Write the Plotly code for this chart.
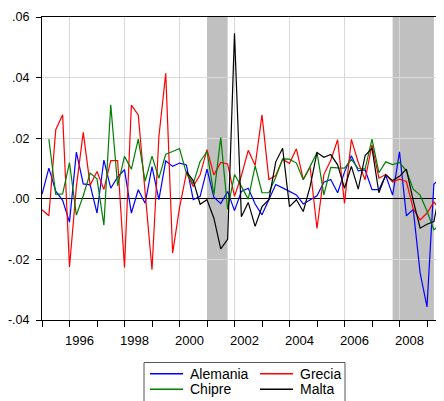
import pandas as pd
import plotly.graph_objects as go

# ---------------- data (quarterly growth rates) ----------------
start_quarter = "1995Q1"

alemania = [0.0015, 0.0101, 0.0025, -0.0005, -0.0077, 0.0154, 0.0049, 0.0046, -0.0047, 0.0128,
            0.0035, 0.0072, 0.0096, -0.0047, 0.0030, -0.0015, 0.0106, -0.0003, 0.0125, 0.0107,
            0.0118, 0.0112, -0.0003, 0.0008, 0.0098, 0.0005, -0.0016, 0.0024, -0.0039, 0.0024,
            0.0035, -0.0017, -0.0053, -0.0003, 0.0047, 0.0036, 0.0025, 0.0013, -0.0017, -0.0003,
            0.0010, 0.0055, 0.0064, 0.0020, 0.0088, 0.0142, 0.0092, 0.0095, 0.0030, 0.0030,
            0.0077, 0.0012, 0.0155, -0.0056, -0.0035, -0.0245, -0.0357, 0.0048, 0.0072, 0.0000]

grecia = [-0.0036, -0.0056, 0.0228, 0.0277, -0.0225, 0.0040, 0.0219, 0.0045, 0.0090, 0.0031,
          0.0126, 0.0126, -0.0227, 0.0309, 0.0277, 0.0020, -0.0234, 0.0205, 0.0414, -0.0179,
          -0.0030, 0.0085, 0.0041, 0.0079, 0.0162, 0.0079, 0.0120, 0.0115, 0.0008, 0.0076,
          0.0160, 0.0110, 0.0277, 0.0064, 0.0077, 0.0130, 0.0117, 0.0165, 0.0064, 0.0105,
          -0.0098, 0.0080, 0.0127, 0.0195, -0.0015, 0.0196, 0.0120, 0.0063, 0.0178, 0.0068,
          0.0080, 0.0055, 0.0065, 0.0057, -0.0033, -0.0070, -0.0047, -0.0010, -0.0042]

chipre = [None, 0.0197, 0.0015, 0.0016, 0.0119, -0.0054, 0.0010, 0.0085, 0.0066, -0.0087,
          0.0310, 0.0043, 0.0140, 0.0098, 0.0197, 0.0058, 0.0141, 0.0068, 0.0147, 0.0156,
          0.0166, 0.0085, 0.0050, 0.0123, 0.0156, 0.0013, 0.0202, -0.0035, 0.0080, 0.0041,
          -0.0001, 0.0109, 0.0020, 0.0020, 0.0071, 0.0132, 0.0131, 0.0118, 0.0063, 0.0107,
          0.0153, 0.0013, 0.0104, 0.0102, 0.0101, 0.0130, 0.0100, 0.0099, 0.0197, 0.0086,
          0.0122, 0.0113, 0.0120, 0.0092, 0.0032, 0.0012, -0.0040, -0.0102, -0.0085, -0.0040]

malta = [None] * 21 + [
    0.0090, 0.0060, -0.0018, -0.0003, -0.0064, -0.0165, -0.0134, 0.0546, -0.0059,
    -0.0012, -0.0091, -0.0026, -0.0003, 0.0122, 0.0167, -0.0026, -0.0003, -0.0042, 0.0041,
    0.0153, 0.0137, 0.0146, 0.0112, 0.0035, 0.0107, 0.0032, 0.0143, 0.0167, 0.0020,
    0.0079, 0.0060, 0.0074, 0.0098, -0.0006, -0.0097, -0.0084, -0.0075, 0.0040]

series_names = ["Alemania", "Grecia", "Chipre", "Malta"]
series_values = [alemania, grecia, chipre, malta]
series_colors = ["#0000ff", "#ff0000", "#008000", "#000000"]

# recession bands (start, end) in fractional years
band_starts = [2001.0, 2007.75]
band_ends = [2001.75, 2009.25]

x_tick_years = [1996, 1998, 2000, 2002, 2004, 2006, 2008]
x_tick_labels = ["1996", "1998", "2000", "2002", "2004", "2006", "2008"]
y_tick_vals = [-0.04, -0.02, 0.0, 0.02, 0.04, 0.06]
y_tick_labels = ["-.04", "-.02", ".00", ".02", ".04", ".06"]

# ---------------- geometry ----------------
# the page has the browser's default 8px body margin, so the figure is offset by 8px
PAGE_OFF = 8
W, H = 444, 401
ML, MR, MT, MB = 42 - PAGE_OFF, 0, 17 - PAGE_OFF, H - (320 - PAGE_OFF)
PW, PH = W - ML - MR, H - MT - MB
PX_PER_YEAR = 27.5
X_START = 1995
X_END = X_START + PW / PX_PER_YEAR


def px_x(px):
    return (px - PAGE_OFF - ML) / PW


def px_y(py):
    return (H - MB - (py - PAGE_OFF)) / PH


# legend: 2 columns x 2 rows (page-pixel positions of sample-line starts / row centres)
legend_line_x = [150, 260, 150, 260]
legend_row_y = [373.7, 373.7, 389.3, 389.3]
legend_line_len = 33
legend_text_gap = 6

# ---------------- figure ----------------
font_family = "Liberation Sans, Arial, Helvetica, sans-serif"

fig = go.Figure()
for name, vals, col in zip(series_names, series_values, series_colors):
    periods = pd.period_range(start_quarter, periods=len(vals), freq="Q")
    xs = [p.year + (p.quarter - 1) / 4 for p in periods]
    fig.add_trace(go.Scatter(x=xs, y=vals, mode="lines", name=name,
                             line=dict(color=col, width=1.2), showlegend=False,
                             connectgaps=False))

for s, e in zip(band_starts, band_ends):
    fig.add_vrect(x0=s, x1=e, fillcolor="#c0c0c0", opacity=1, line_width=0, layer="below")

# legend frame
fig.add_shape(type="rect", xref="paper", yref="paper",
              x0=px_x(144), x1=px_x(345), y0=px_y(406), y1=px_y(362.5),
              line=dict(color="#555555", width=1), fillcolor="rgba(0,0,0,0)")

for name, col, lx, ly in zip(series_names, series_colors, legend_line_x, legend_row_y):
    fig.add_shape(type="line", xref="paper", yref="paper",
                  x0=px_x(lx), x1=px_x(lx + legend_line_len), y0=px_y(ly), y1=px_y(ly),
                  line=dict(color=col, width=1.5))
    fig.add_annotation(xref="paper", yref="paper",
                       x=px_x(lx + legend_line_len + legend_text_gap), y=px_y(ly),
                       text=name, showarrow=False, xanchor="left", yanchor="middle",
                       xshift=-1, font=dict(family=font_family, size=14, color="black"))

fig.update_layout(
    width=W, height=H,
    margin=dict(l=ML, r=MR, t=MT, b=MB),
    paper_bgcolor="white", plot_bgcolor="white",
    font=dict(family=font_family, size=13, color="black"),
    showlegend=False,
    xaxis=dict(range=[X_START, X_END], tickmode="array", tickvals=x_tick_years,
               ticktext=x_tick_labels, ticks="outside", ticklen=6, tickcolor="black",
               ticklabelshift=10, ticklabelstandoff=2, automargin=False,
               showline=True, linecolor="black", linewidth=1, mirror=True,
               showgrid=True, gridcolor="#d9d9d9", gridwidth=1, zeroline=False,
               minor=dict(ticks="outside", ticklen=6, tick0=1995, dtick=1,
                          tickcolor="black", showgrid=False),
               tickfont=dict(size=13)),
    yaxis=dict(range=[-0.04, 0.06], tickmode="array", tickvals=y_tick_vals,
               ticktext=y_tick_labels, ticks="outside", ticklen=5, tickcolor="black",
               ticklabelstandoff=4, automargin=False,
               showline=True, linecolor="black", linewidth=1, mirror=False,
               showgrid=True, gridcolor="#d9d9d9", gridwidth=1,
               zeroline=True, zerolinecolor="black", zerolinewidth=1,
               tickfont=dict(size=12.5)),
)

fig.write_html("out.html")
